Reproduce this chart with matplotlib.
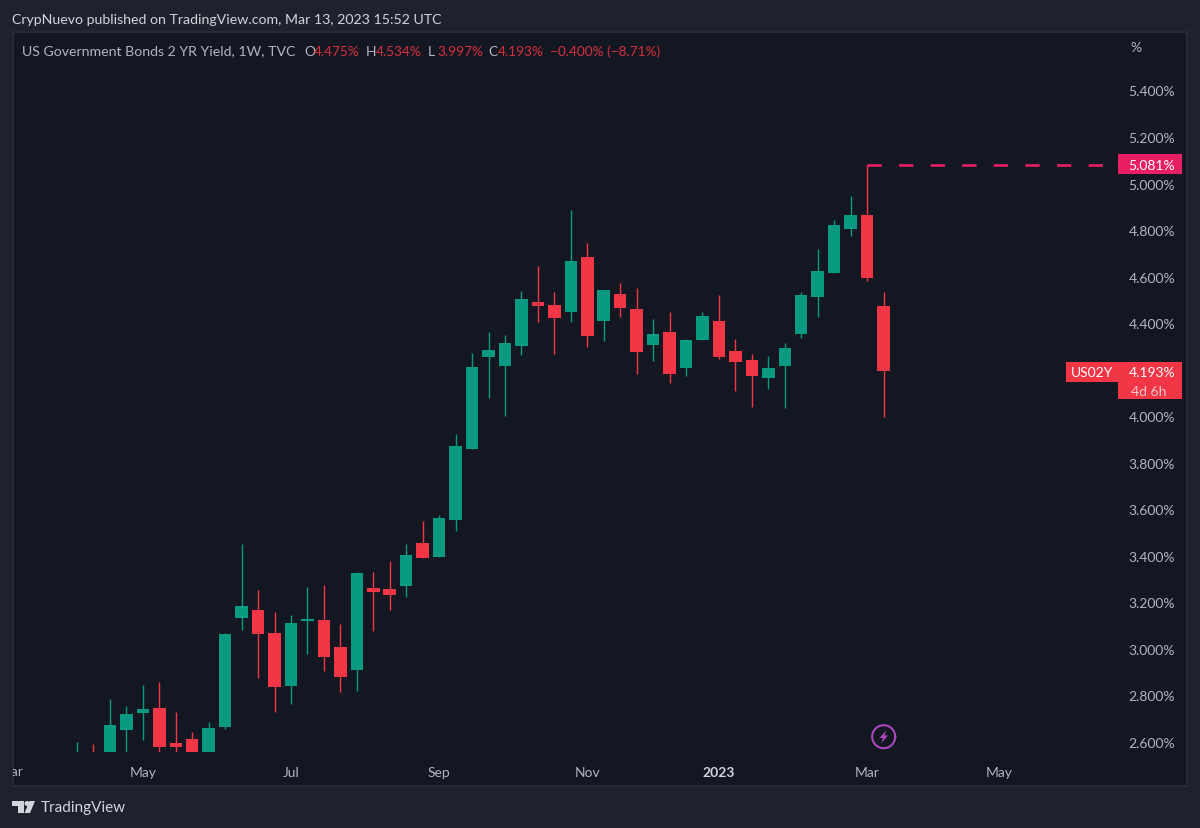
import numpy as np
import matplotlib
matplotlib.use('Agg')
import matplotlib.pyplot as plt
from matplotlib.patches import Rectangle, Polygon
from matplotlib.transforms import Bbox, IdentityTransform

# weekly candles US02Y
# the first bars sit below the visible range, only their upper wicks show
opens = [2.40, 2.52, 2.50, 2.650, 2.726, 2.745, 2.596, 2.613, 2.50, 2.663,
         3.131, 3.169, 3.070, 2.841, 3.120, 3.124, 3.008, 2.909, 3.263, 3.259,
         3.270, 3.454, 3.395, 3.555, 3.860, 4.256, 4.217, 4.303, 4.489, 4.478,
         4.448, 4.683, 4.410, 4.526, 4.461, 4.307, 4.362, 4.206, 4.329, 4.410,
         4.279, 4.242, 4.164, 4.217, 4.353, 4.514, 4.617, 4.803, 4.863, 4.475]
highs = [2.601, 2.590, 2.785, 2.753, 2.845, 2.856, 2.727, 2.642, 2.687, 3.068,
         3.452, 3.254, 3.157, 3.144, 3.266, 3.276, 3.107, 3.329, 3.332, 3.376,
         3.450, 3.551, 3.575, 3.925, 4.270, 4.361, 4.349, 4.538, 4.644, 4.532,
         4.885, 4.746, 4.542, 4.574, 4.551, 4.418, 4.448, 4.333, 4.448, 4.521,
         4.333, 4.267, 4.259, 4.315, 4.532, 4.720, 4.843, 4.946, 5.081, 4.534]
lows = [2.35, 2.38, 2.45, 2.555, 2.609, 2.558, 2.555, 2.45, 2.46, 2.656,
        3.083, 2.876, 2.727, 2.762, 2.979, 2.905, 2.814, 2.818, 3.077, 3.167,
        3.223, 3.391, 3.395, 3.505, 3.860, 4.080, 4.000, 4.263, 4.406, 4.266,
        4.406, 4.296, 4.323, 4.426, 4.180, 4.236, 4.144, 4.173, 4.329, 4.246,
        4.110, 4.041, 4.116, 4.035, 4.336, 4.428, 4.617, 4.773, 4.580, 3.997]
closes = [2.50, 2.42, 2.672, 2.720, 2.740, 2.577, 2.580, 2.50, 2.659, 3.065,
          3.184, 3.065, 2.836, 3.111, 3.129, 2.966, 2.881, 3.325, 3.246, 3.233,
          3.404, 3.391, 3.563, 3.872, 4.213, 4.283, 4.316, 4.502, 4.475, 4.422,
          4.667, 4.345, 4.542, 4.465, 4.275, 4.353, 4.180, 4.329, 4.432, 4.254,
          4.234, 4.171, 4.206, 4.292, 4.521, 4.624, 4.822, 4.863, 4.593, 4.193]

y_ticks = [2.6, 2.8, 3.0, 3.2, 3.4, 3.6, 3.8, 4.0, 4.4, 4.6, 4.8, 5.0, 5.2, 5.4]
x_ticks = [4, 13, 22, 31, 39, 48, 56]
x_labels = ['May', 'Jul', 'Sep', 'Nov', '2023', 'Mar', 'May']
last_high = 5.081
last_close = 4.193

GREEN = '#089981'
RED = '#f23645'
PINK = '#e91e63'
BG = '#1e222d'
PANE = '#131722'
BORDER = '#2a2e39'
TXT = '#b2b5be'
W, H = 1200, 829

plt.rcParams['font.family'] = 'Lato'


def fx(x):
    return x / W


def fy(y):
    return 1 - y / H


def ftext(x, y, s, **kw):
    kw.setdefault('va', 'center')
    kw.setdefault('color', TXT)
    kw.setdefault('fontsize', 10)
    return fig.text(fx(x), fy(y + 1), s, **kw)


def frect(x0, y0, x1, y1, **kw):
    fig.add_artist(Rectangle((fx(x0), fy(y1)), fx(x1 - x0), (y1 - y0) / H,
                             transform=fig.transFigure, **kw))


def fpoly(pts, color):
    fig.add_artist(Polygon([(fx(a), fy(b)) for a, b in pts], transform=fig.transFigure,
                           facecolor=color, linewidth=0))


fig = plt.figure(figsize=(12, 8.29), dpi=100, facecolor=BG)
frect(12.5, 33, 1186.5, 787, facecolor=PANE, edgecolor=BORDER, linewidth=1.2, zorder=-1)

# price pane, pixel scale: 232.7px per 1.0, 16.46px per week
ax = fig.add_axes([fx(13), fy(753), fx(1105), 720 / H])
ax.patch.set_alpha(0)
for s in ax.spines.values():
    s.set_visible(False)

opens = np.array(opens)
closes = np.array(closes)
idx = np.arange(len(opens))
cols = [GREEN if c >= o else RED for o, c in zip(opens, closes)]

ax.vlines(idx, lows, highs, colors=cols, linewidth=1.0)
ax.bar(idx, np.abs(closes - opens), bottom=np.minimum(opens, closes),
       width=0.76, color=cols, linewidth=0)

ax.set_xlim((13 - 77) / 16.46, (1118 - 77) / 16.46)
ax.set_ylim(5 - (753 - 184.5) / 232.7, 5 + (184.5 - 33) / 232.7)

ax.plot([48, ax.get_xlim()[1]], [last_high, last_high], color=PINK, linewidth=1.9,
        dashes=(5.4, 6.57), dash_capstyle='butt')

ax.yaxis.tick_right()
ax.set_yticks(y_ticks)
ax.set_yticklabels(['%.3f%%' % v for v in y_ticks], color=TXT, fontsize=10, ha='right')
ax.tick_params(axis='y', length=0, pad=41)

ax.set_xticks(x_ticks)
ax.set_xticklabels(x_labels, color=TXT, fontsize=10)
ax.tick_params(axis='x', length=0, pad=10)
for t in ax.get_xticklabels():
    if t.get_text() == '2023':
        t.set_fontweight('bold')
        t.set_color('#d1d4dc')

# Mar on the far left is cut by the pane edge
mar = ax.text(11, H - 772, 'Mar', transform=IdentityTransform(), color=TXT, fontsize=10,
              ha='center', va='center')
mar.set_clip_on(True)
mar.set_clip_box(Bbox([[13, 0], [W, H]]))

# header and legend
ftext(12, 18.5, 'CrypNuevo published on TradingView.com, Mar 13, 2023 15:52 UTC',
      color='#d1d4dc', fontsize=10.15)
ftext(22, 50.5, 'US Government Bonds 2 YR Yield, 1W, TVC', fontsize=10.15)
for x, letter in [(304, 'O'), (366, 'H'), (428, 'L'), (488, 'C')]:
    ftext(x, 50.5, letter)
for x, val in [(314, '4.475%'), (376, '4.534%'), (437, '3.997%'), (498, '4.193%'),
               (550, '\u22120.400% (\u22128.71%)')]:
    ftext(x, 50.5, val, color='#d8303f', fontsize=9.8)
ftext(1130, 47, '%')

# price labels
frect(1118, 155, 1182, 175, facecolor=PINK, linewidth=0)
ftext(1175, 164.5, '%.3f%%' % last_high, color='white', ha='right')
frect(1066, 363, 1182, 383, facecolor=RED, linewidth=0)
frect(1118, 383, 1182, 400, facecolor=RED, linewidth=0)
ftext(1071, 372.5, 'US02Y', color='white')
ftext(1175, 372.5, '%.3f%%' % last_close, color='white', ha='right')
ftext(1131, 390.5, '4d 6h', color='#fbc4c9')

# lightning icon
th = np.linspace(0, 2 * np.pi, 80)
fig.add_artist(plt.Line2D(fx(883.7 + 11.5 * np.cos(th)), fy(737.7 + 11.5 * np.sin(th)),
                          transform=fig.transFigure, color='#ab47bc', linewidth=1.5))
fpoly([(886.5, 731), (879.5, 739), (883, 739), (881, 744.5), (888, 736.5), (884.5, 736.5)],
      '#ab47bc')

# TradingView logo
LOGO = '#d1d4dc'
frect(12, 802, 24, 807, facecolor=LOGO, linewidth=0)
frect(18, 807, 24, 814, facecolor=LOGO, linewidth=0)
fpoly([(29.5, 802), (35, 802), (30, 814), (24.5, 814)], LOGO)
th = np.linspace(0, 2 * np.pi, 30)
fpoly(list(zip(27 + 2.5 * np.cos(th), 804.5 + 2.5 * np.sin(th))), LOGO)
ftext(41, 807.5, 'TradingView', color=LOGO, fontsize=11)

fig.savefig('out.png', dpi=100, facecolor=BG)
